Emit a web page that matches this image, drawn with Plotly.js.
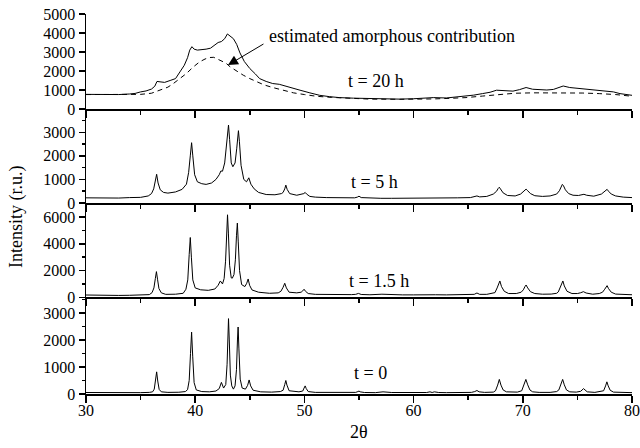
<!DOCTYPE html>
<html>
<head>
<meta charset="utf-8">
<script src="https://cdn.plot.ly/plotly-3.0.1.min.js"></script>
<style>html,body{margin:0;padding:0;background:#fff;}#chart{width:640px;height:448px;}</style>
</head>
<body>
<div id="chart"></div>
<script>
// ---- data ----
// t = 0
const x_t0 = [
30, 31, 32, 33, 34, 35, 35.8,
36.1, 36.25, 36.37, 36.47, 36.57, 36.7, 36.9,
37.5, 38.5, 39.1,
39.3, 39.45, 39.57, 39.67, 39.77, 39.9, 40.1,
40.6, 41.3, 41.9,
42.2, 42.4, 42.6,
42.8, 42.92, 43.0, 43.05, 43.12, 43.22, 43.35,
43.5,
43.65, 43.78, 43.87, 43.93, 44.0, 44.12, 44.3,
44.6, 44.8, 44.94, 45.08, 45.3,
46, 47, 47.8,
48.05, 48.2, 48.3, 48.4, 48.6,
49.5,
49.85, 49.97, 50.07, 50.17, 50.35,
51, 52, 53, 54, 54.7,
54.9, 55.0, 55.1,
55.5, 56.5, 57.2, 58, 59, 60, 61.2, 61.5, 61.7, 61.9, 62.3, 63, 64, 65.3,
65.6, 65.8, 66.0,
66.5, 67.3,
67.5, 67.7, 67.85, 68.0, 68.2, 68.5,
69.5,
69.9, 70.1, 70.28, 70.45, 70.65, 70.9,
71.5, 72.5, 73.1,
73.3, 73.5, 73.65, 73.8, 74.0, 74.3,
74.9,
75.3, 75.45, 75.56, 75.7, 75.9,
76.6,
77.4, 77.58, 77.7, 77.82, 78.0, 78.3,
79, 80
];
const y_t0 = [
55, 50, 58, 48, 55, 50, 60,
80, 180, 500, 820, 480, 170, 80,
60, 65, 90,
160, 500, 1500, 2290, 1400, 420, 150,
90, 80, 110,
200, 430, 220,
350, 1100, 2300, 2790, 2000, 700, 300,
180,
300, 900, 2000, 2480, 1700, 550, 220,
180, 320, 520, 300, 140,
80, 70, 90,
140, 350, 500, 330, 120,
80,
110, 220, 300, 200, 90,
60, 55, 50, 55, 60,
90, 110, 80,
55, 50, 80, 55, 50, 50, 55, 80, 55, 80, 55, 50, 55, 60,
90, 130, 80,
60, 70,
120, 330, 540, 330, 150, 80,
70,
120, 330, 540, 340, 150, 80,
60, 60, 90,
150, 350, 540, 340, 150, 80,
70,
100, 170, 200, 150, 80,
60,
120, 300, 450, 300, 140, 70,
60, 50
];

// t = 1.5 h
const x_t15 = [
30, 31, 32, 33, 34, 35, 35.8,
36.05, 36.22, 36.35, 36.45, 36.55, 36.68, 36.9,
37.3, 38.2, 38.9,
39.15, 39.32, 39.45, 39.55, 39.65, 39.78, 40.0,
40.5, 41.2, 41.8,
42.1, 42.3, 42.5,
42.65, 42.78, 42.88, 42.96, 43.04, 43.15, 43.3,
43.4,
43.55, 43.68, 43.78, 43.86, 43.94, 44.06, 44.25,
44.55, 44.72, 44.85, 44.98, 45.2,
45.8, 46.8, 47.6,
47.85, 48.05, 48.2, 48.35, 48.6,
49.3,
49.7, 49.85, 49.97, 50.1, 50.35,
51, 52, 53, 54.3,
54.7, 54.95, 55.2,
56, 57.1, 58, 59, 60, 61.3, 61.6, 62, 63, 64, 65.3,
65.55, 65.8, 66.05,
66.7, 67.2,
67.45, 67.65, 67.8, 67.9, 68.05, 68.3, 68.7,
69.4,
69.85, 70.05, 70.2, 70.3, 70.45, 70.7, 71.1,
71.8, 72.6, 73.1,
73.25, 73.45, 73.58, 73.67, 73.8, 74.05, 74.5,
75.0,
75.3, 75.55, 75.8,
76.4, 77.0,
77.3, 77.5, 77.62, 77.72, 77.85, 78.1, 78.5,
79.2, 80
];
const y_t15 = [
170, 150, 160, 140, 150, 160, 200,
350, 700, 1400, 1920, 1350, 650, 330,
220, 230, 300,
600, 1300, 3200, 4470, 3000, 1300, 700,
560, 520, 620,
900, 1220, 1000,
1400, 2700, 5000, 6170, 4800, 2400, 1450,
1430,
1700, 2800, 4600, 5550, 4200, 2000, 950,
800, 1050, 1370, 900, 550,
380, 300, 330,
450, 750, 1050, 700, 380,
330,
380, 480, 600, 450, 280,
220, 200, 190, 200,
220, 290, 210,
190, 230, 190, 180, 180, 190, 230, 190, 180, 190, 200,
220, 320, 220,
220, 300,
350, 700, 1100, 1220, 800, 450, 280,
280,
380, 560, 800, 920, 700, 420, 280,
230, 240, 300,
400, 750, 1100, 1220, 850, 450, 280,
280,
340, 420, 320,
230, 280,
380, 600, 820, 870, 650, 380, 240,
200, 190
];

// t = 5 h
const x_t5 = [
30, 31, 32, 33, 34, 35, 35.7, 36.0,
36.2, 36.35, 36.47, 36.6, 36.8, 37.1,
37.5, 38.2, 38.8, 39.2,
39.4, 39.55, 39.67, 39.78, 39.95, 40.2,
40.6, 41.0, 41.5, 41.9,
42.2, 42.35, 42.5,
42.7, 42.85, 42.97, 43.05, 43.15, 43.3,
43.45,
43.65, 43.8, 43.9, 43.96, 44.05, 44.2, 44.45,
44.7, 44.91, 45.1, 45.4,
45.8, 46.5, 47.3, 47.9,
48.05, 48.2, 48.3, 48.42, 48.65,
49.3, 49.8,
49.95, 50.07, 50.2, 50.5,
51, 52, 53, 54, 54.6,
54.85, 55.0, 55.2,
56, 57, 58, 59, 60, 61, 62, 63, 64, 65.2,
65.6, 65.8, 66.05,
66.7, 67.3,
67.6, 67.75, 67.85, 67.95, 68.2, 68.6,
69.3, 69.8,
70.05, 70.2, 70.3, 70.45, 70.7, 71.1,
71.8, 72.5, 73.1,
73.35, 73.52, 73.62, 73.72, 73.9, 74.2, 74.6,
75.1,
75.4, 75.6, 75.85,
76.5, 77.2,
77.45, 77.6, 77.72, 77.85, 78.1, 78.5,
79.2, 80
];
const y_t5 = [
220, 210, 220, 210, 230, 240, 300, 400,
600, 900, 1220, 850, 560, 450,
420, 470, 580, 800,
1300, 2000, 2560, 2000, 1200, 900,
820, 790, 850, 1000,
1200, 1360, 1350,
1700, 2400, 3100, 3310, 2700, 1700,
1540,
1700, 2300, 2900, 3070, 2600, 1600, 1000,
900, 1070, 800, 600,
450, 360, 350, 400,
450, 600, 760, 580, 400,
330, 360,
400, 450, 380, 280,
250, 230, 220, 210, 220,
250, 290, 230,
210, 200, 200, 200, 200, 190, 200, 210, 220, 230,
260, 300, 260,
280, 380,
500, 620, 670, 600, 430, 320,
300, 380,
480, 560, 590, 520, 400, 310,
280, 300, 380,
520, 680, 790, 740, 560, 400, 330,
320,
340, 370, 330,
290, 380,
470, 550, 580, 500, 380, 300,
250, 230
];

// t = 20 h (measured)
const x_t20 = [30, 31, 32, 33, 34, 34.5, 35, 35.5, 36, 36.3, 36.5, 36.8, 37.2, 37.7, 38.2, 38.6, 39.0, 39.3, 39.5, 39.7,
  39.9, 40.2, 40.6, 41.0, 41.4, 41.8, 42.1, 42.4, 42.7, 42.95, 43.2, 43.5, 43.8, 44.1, 44.5, 45.0, 45.5, 45.9, 46.5, 47.1,
  47.7, 48.4, 49.0, 49.6, 50.5, 51.4, 52.3, 53.2, 54.5, 55.7, 57, 58.7, 60, 61.8, 63, 64, 64.8, 65.5, 66.3, 67,
  67.6, 68.3, 69.1, 69.7, 70.3, 70.9, 71.5, 72.2, 72.8, 73.3, 73.7, 74.3, 75.2, 76, 76.8, 77.6, 78.3, 78.9, 79.5, 80];
const y_t20 = [770, 760, 780, 760, 790, 820, 900, 950, 1050, 1200, 1450, 1420, 1400, 1500, 1600, 1950, 2300, 2700, 3100, 3280,
  3150, 3100, 3120, 3150, 3200, 3350, 3500, 3550, 3700, 3950, 3850, 3700, 3400, 2950, 2500, 2130, 1850, 1600, 1450, 1340,
  1300, 1200, 1100, 990, 850, 720, 650, 600, 570, 550, 540, 520, 540, 600, 580, 640, 670, 730, 810, 880,
  990, 960, 940, 1020, 1130, 1040, 1020, 1000, 1030, 1120, 1210, 1130, 1080, 1050, 1000, 950, 900, 810, 760, 720];

// t = 20 h, estimated amorphous contribution (dashed)
const x_amor = [30, 32, 34, 35, 36, 36.8, 37.5, 38, 38.6, 39.2, 39.8, 40.4, 40.9, 41.3, 41.7, 42.3, 42.8, 43.2, 43.8, 44.4,
  45, 45.6, 46.3, 47.1, 48, 49, 50, 51.1, 52.5, 54.2, 56, 58.7, 60, 61.8, 63.3, 64.8, 66.3, 67.9, 69.3, 70.9,
  72.5, 74, 75.5, 77, 78.5, 80];
const y_amor = [760, 760, 760, 770, 830, 990, 1150, 1340, 1600, 1870, 2200, 2480, 2630, 2710, 2720, 2570, 2420, 2220, 1990, 1780,
  1600, 1430, 1270, 1130, 990, 850, 760, 670, 610, 550, 520, 510, 510, 530, 560, 600, 680, 780, 830, 850,
  860, 850, 840, 810, 760, 670];

const panelLabels = ['t = 0', 't = 1.5 h', 't = 5 h', 't = 20 h'];
const amorLabel = 'estimated amorphous contribution';
const yTitle = 'Intensity (r.u.)';
const xTitle = '2\u03b8';

// ---- chart ----
const FONT = 'Liberation Serif, Times New Roman, serif';
const K = '#000';

const line = {color: K, width: 1};
const traces = [
  {x: x_t0, y: y_t0, xaxis: 'x', yaxis: 'y', mode: 'lines', line: line},
  {x: x_t15, y: y_t15, xaxis: 'x2', yaxis: 'y2', mode: 'lines', line: line},
  {x: x_t5, y: y_t5, xaxis: 'x3', yaxis: 'y3', mode: 'lines', line: line},
  {x: x_t20, y: y_t20, xaxis: 'x4', yaxis: 'y4', mode: 'lines', line: line},
  {x: x_amor, y: y_amor, xaxis: 'x4', yaxis: 'y4', mode: 'lines', line: {color: K, width: 1, dash: '5px,4px'}}
];

function xax(anchor, labels) {
  return {
    domain: [0, 1], anchor: anchor, range: [30, 80],
    showline: true, linewidth: 2, linecolor: K,
    ticks: 'outside', ticklen: 7, tickwidth: 1.5, tickcolor: K,
    tickmode: 'linear', tick0: 30, dtick: 10,
    minor: {tick0: 30, dtick: 5, ticks: 'outside', ticklen: 4, tickwidth: 1.5, tickcolor: K},
    showticklabels: labels, showgrid: false, zeroline: false,
    ticklabelstandoff: -6,
    tickfont: {family: FONT, size: 16, color: K}, fixedrange: true
  };
}
function yax(anchor, domain, range, dtick, minorDtick) {
  const a = {
    domain: domain, anchor: anchor, range: range,
    showline: true, linewidth: 1.5, linecolor: K,
    ticks: 'outside', ticklen: 6, tickwidth: 1.5, tickcolor: K,
    tickmode: 'linear', tick0: 0, dtick: dtick,
    showgrid: false, zeroline: false,
    tickfont: {family: FONT, size: 16, color: K}, fixedrange: true
  };
  if (minorDtick) a.minor = {tick0: 0, dtick: minorDtick, ticks: 'outside', ticklen: 3, tickwidth: 1.5, tickcolor: K};
  return a;
}

const L = 86, R = 8, T = 14, B = 54, W = 640, H = 448;
const PW = W - L - R, PH = H - T - B;
const px = v => (v - L) / PW;
const py = v => (H - B - v) / PH;

function label(text, cx, cy, extra) {
  return Object.assign({xref: 'paper', yref: 'paper', x: px(cx), y: py(cy), xanchor: 'center', yanchor: 'middle',
    text: text, showarrow: false, font: {family: FONT, size: 18, color: K}}, extra || {});
}

const layout = {
  width: W, height: H,
  margin: {l: L, r: R, t: T, b: B, pad: 0},
  paper_bgcolor: '#fff', plot_bgcolor: '#fff',
  showlegend: false,
  font: {family: FONT, color: K, size: 16},
  xaxis: xax('y', true),
  xaxis2: xax('y2', false),
  xaxis3: xax('y3', false),
  xaxis4: xax('y4', false),
  yaxis: yax('x', [0, 0.2545], [0, 3580], 1000, 500),
  yaxis2: yax('x2', [0.2545, 0.5026], [0, 7050], 2000, 1000),
  yaxis3: yax('x3', [0.5026, 0.75], [0, 3990], 1000, 500),
  yaxis4: yax('x4', [0.75, 1], [0, 5000], 1000, null),
  annotations: [
    label(panelLabels[0], 370, 373),
    label(panelLabels[1], 379, 281),
    label(panelLabels[2], 374, 182),
    label(panelLabels[3], 376, 81),
    label(amorLabel, 392, 36),
    {xref: 'x4', yref: 'y4', x: 43.0, y: 2310, text: '', showarrow: true, axref: 'pixel', ayref: 'pixel', ax: 37, ay: -22,
      arrowhead: 2, arrowsize: 2, arrowwidth: 1, arrowcolor: K, standoff: 0},
    label(yTitle, 16, 217, {textangle: -90}),
    label(xTitle, 359, 432)
  ]
};

Plotly.newPlot('chart', traces, layout, {staticPlot: true, displayModeBar: false});
</script>
</body>
</html>
